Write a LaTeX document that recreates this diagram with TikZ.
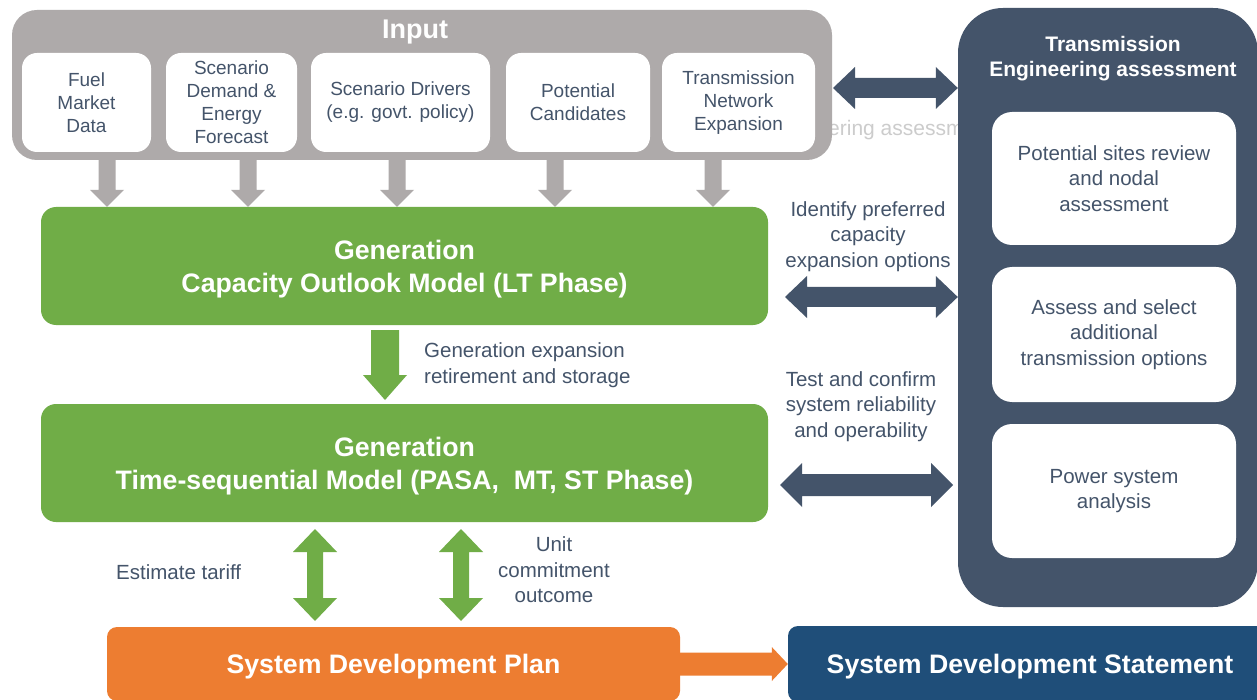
\documentclass[tikz,border=0pt]{standalone}
\usepackage{fontspec}
\setmainfont{Liberation Sans}
\usetikzlibrary{calc}
\definecolor{grayin}{HTML}{AEAAAA}
\definecolor{greenb}{HTML}{70AD47}
\definecolor{slate}{HTML}{44546A}
\definecolor{orangeb}{HTML}{ED7D31}
\definecolor{blueb}{HTML}{1F4E79}
% block arrows: #1 style, #2 from, #3 to, #4 shaft half width, #5 head half width, #6 head length
\newcommand{\hdarrow}[6]{\fill[#1] let \p1=(#2), \p2=(#3) in
 (\x1,\y1) -- (\x1+#6,\y1+#5) -- (\x1+#6,\y1+#4) -- (\x2-#6,\y1+#4) -- (\x2-#6,\y1+#5) -- (\x2,\y1)
 -- (\x2-#6,\y1-#5) -- (\x2-#6,\y1-#4) -- (\x1+#6,\y1-#4) -- (\x1+#6,\y1-#5) -- cycle;}
\newcommand{\vdarrow}[6]{\fill[#1] let \p1=(#2), \p2=(#3) in
 (\x1,\y1) -- (\x1+#5,\y1-#6) -- (\x1+#4,\y1-#6) -- (\x1+#4,\y2+#6) -- (\x1+#5,\y2+#6) -- (\x1,\y2)
 -- (\x1-#5,\y2+#6) -- (\x1-#4,\y2+#6) -- (\x1-#4,\y1-#6) -- (\x1-#5,\y1-#6) -- cycle;}
\newcommand{\vsarrow}[6]{\fill[#1] let \p1=(#2), \p2=(#3) in
 (\x1-#4,\y1) -- (\x1+#4,\y1) -- (\x1+#4,\y2+#6) -- (\x1+#5,\y2+#6) -- (\x1,\y2)
 -- (\x1-#5,\y2+#6) -- (\x1-#4,\y2+#6) -- cycle;}
\newcommand{\hsarrow}[6]{\fill[#1] let \p1=(#2), \p2=(#3) in
 (\x1,\y1+#4) -- (\x2-#6,\y1+#4) -- (\x2-#6,\y1+#5) -- (\x2,\y1) -- (\x2-#6,\y1-#5)
 -- (\x2-#6,\y1-#4) -- (\x1,\y1-#4) -- cycle;}
\begin{document}
\begin{tikzpicture}[x=1pt,y=-1pt,
  inpanel/.style={fill=grayin, rounded corners=25pt, inner sep=0pt},
  intitle/.style={text=white, font=\bfseries\fontsize{27}{32}\selectfont, inner sep=0pt},
  inbox/.style={fill=white, rounded corners=15pt, inner sep=0pt, align=center, text=slate,
    font=\fontsize{19}{23}\selectfont, minimum height=99pt},
  gbox/.style={fill=greenb, rounded corners=15pt, inner sep=0pt, minimum width=727pt, minimum height=118pt},
  btext/.style={align=center, text=white, inner sep=0pt, font=\bfseries\fontsize{26.7}{33}\selectfont},
  panel/.style={fill=slate, rounded corners=45pt, inner sep=0pt},
  ptitle/.style={text=white, align=center, font=\bfseries\fontsize{21}{25}\selectfont, inner sep=0pt},
  tbox/.style={fill=white, rounded corners=20pt, inner sep=0pt, align=center, text=slate,
    font=\fontsize{20.5}{25.5}\selectfont, minimum width=244pt},
  lbl/.style={align=center, text=slate, font=\fontsize{20.5}{25.5}\selectfont, inner sep=0pt},
  outbox/.style={rounded corners=10pt, inner sep=0pt},
  ghost/.style={text=black!20, font=\fontsize{21}{25}\selectfont, inner sep=0pt},
  grayarr/.style={fill=grayin},
  greenarr/.style={fill=greenb},
  slatearr/.style={fill=slate},
  orangearr/.style={fill=orangeb}]
\clip (0,0) rectangle (1257,700);
\fill[white] (0,0) rectangle (1257,700);

% faint leftover text
\node[ghost, anchor=west] (ghost) at (828,130) {ering assessment};

% Input panel
\node[inpanel, minimum width=820pt, minimum height=150pt] (input) at (422,85) {};
\node[intitle] (intitle) at (415,32) {Input};
\node[inbox, minimum width=129pt] (fuel) at (86.5,102.5) {Fuel\\Market\\Data};
\node[inbox, minimum width=131pt] (sdef) at (231.5,102.5) {Scenario\\Demand \&\\Energy\\Forecast};
\node[inbox, minimum width=179pt] (sdrv) at (400.5,102.5) {Scenario Drivers\\(e.g. govt. policy)};
\node[inbox, minimum width=144pt] (pcand) at (578,102.5) {Potential\\Candidates};
\node[inbox, minimum width=153pt] (tne) at (738.5,102.5) {Transmission\\Network\\Expansion};

% Generation models
\node[gbox] (gen1) at (404.5,266) {};
\node[btext] (gen1t) at (404.5,269) {Generation\\Capacity Outlook Model (LT Phase)};
\node[gbox] (gen2) at (404.5,463) {};
\node[btext] (gen2t) at (404.5,466) {Generation\\Time-sequential Model (PASA,\ \ MT, ST Phase)};

% gray input arrows
\coordinate (a1s) at (107,160);
\coordinate (a2s) at (248,160);
\coordinate (a3s) at (397,160);
\coordinate (a4s) at (555,160);
\coordinate (a5s) at (713,160);
\foreach \c in {a1s,a2s,a3s,a4s,a5s}{
  \vsarrow{grayarr}{\c}{\c |- gen1.north}{8.5pt}{17pt}{17pt}
}

% green arrow between models
\coordinate (d1s) at (385,330);
\coordinate (d1e) at (385,400);
\vsarrow{greenarr}{d1s}{d1e}{14pt}{22pt}{25pt}
\node[lbl, align=left, anchor=west] (genexp) at (424,365) {Generation expansion\\retirement and storage};

% Right panel
\node[panel, minimum width=300pt, minimum height=599pt] (tea) at (1108,307.5) {};
\node[ptitle] (teat) at (1113,59) {Transmission\\Engineering assessment};
\node[tbox, minimum height=133pt] (psr) at (1114,178.5) {Potential sites review\\and nodal\\assessment};
\node[tbox, minimum height=135pt] (asel) at (1114,334.5) {Assess and select\\additional\\transmission options};
\node[tbox, minimum height=134pt] (psa) at (1114,491) {Power system\\analysis};

% slate double arrows
\coordinate (h1s) at (833,88);
\hdarrow{slatearr}{h1s}{h1s -| tea.west}{10pt}{21pt}{22pt}
\coordinate (h2s) at (785,297);
\hdarrow{slatearr}{h2s}{h2s -| tea.west}{10pt}{21pt}{22pt}
\coordinate (h3s) at (780,485);
\coordinate (h3e) at (953,485);
\hdarrow{slatearr}{h3s}{h3e}{11pt}{22pt}{22pt}

\node[lbl] (ident) at (868,236.5) {Identify preferred\\capacity\\expansion options};
\node[lbl] (testc) at (861,406.5) {Test and confirm\\system reliability\\and operability};

% bottom
\node[outbox, fill=orangeb, minimum width=573pt, minimum height=74pt] (sdp) at (393.5,664) {};
\node[btext] (sdpt) at (393.5,667) {System Development Plan};
\node[outbox, fill=blueb, minimum width=484pt, minimum height=76pt] (sds) at (1030,664) {};
\node[btext] (sdst) at (1030,667) {System Development Statement};
\hsarrow{orangearr}{sdp.east}{sds.west}{11.5pt}{17pt}{16pt}

\coordinate (v1s) at (315,529);
\coordinate (v1e) at (315,621);
\vdarrow{greenarr}{v1s}{v1e}{8pt}{22pt}{23pt}
\coordinate (v2s) at (461,529);
\coordinate (v2e) at (461,621);
\vdarrow{greenarr}{v2s}{v2e}{8pt}{22pt}{23pt}
\node[lbl, anchor=west] (tariff) at (116,572) {Estimate tariff};
\node[lbl] (unitc) at (554,570) {Unit\\commitment\\outcome};
\end{tikzpicture}
\end{document}
